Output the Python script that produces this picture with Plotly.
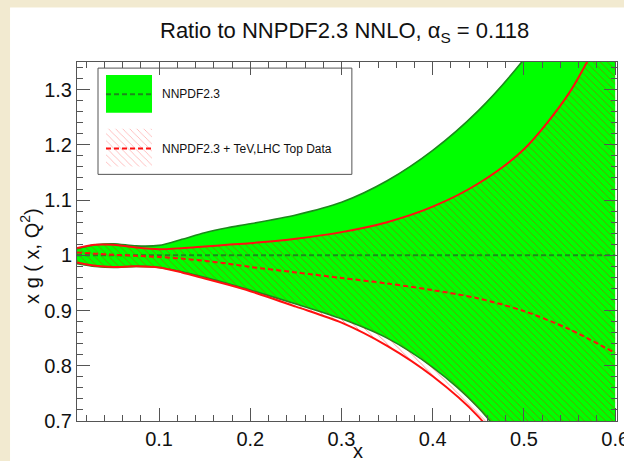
import plotly.graph_objects as go

# ---- data ----
x = [0.01, 0.03, 0.05, 0.075, 0.1, 0.125, 0.15, 0.175, 0.2, 0.25, 0.3, 0.35, 0.4, 0.45, 0.5, 0.55, 0.6]
nnpdf_up = [1.012, 1.019, 1.021, 1.017, 1.018, 1.029, 1.041, 1.050, 1.057, 1.073, 1.096, 1.135, 1.190, 1.262, 1.355, 1.47, 1.60]
nnpdf_lo = [0.985, 0.980, 0.978, 0.980, 0.978, 0.970, 0.960, 0.949, 0.937, 0.912, 0.885, 0.850, 0.797, 0.724, 0.62, 0.50, 0.36]
nnpdf_c = [1.0] * len(x)
top_up = [1.013, 1.019, 1.019, 1.014, 1.011, 1.013, 1.016, 1.019, 1.022, 1.030, 1.042, 1.060, 1.088, 1.130, 1.192, 1.295, 1.45]
top_lo = [0.987, 0.981, 0.979, 0.980, 0.978, 0.969, 0.958, 0.947, 0.935, 0.907, 0.878, 0.836, 0.781, 0.708, 0.60, 0.47, 0.32]
top_c = [1.005, 1.003, 1.001, 0.999, 0.997, 0.994, 0.990, 0.985, 0.979, 0.969, 0.959, 0.949, 0.937, 0.922, 0.899, 0.866, 0.823]

xticks = [0.1, 0.2, 0.3, 0.4, 0.5, 0.6]
xticklabels = ["0.1", "0.2", "0.3", "0.4", "0.5", "0.6"]
yticks = [0.7, 0.8, 0.9, 1.0, 1.1, 1.2, 1.3]
yticklabels = ["0.7", "0.8", "0.9", "1", "1.1", "1.2", "1.3"]

GREEN = "#00ff00"
DKGREEN = "#1c8a1c"
RED = "#ff1010"
FONT = "Liberation Sans, Arial, sans-serif"
SM = 0.8

pattern = dict(shape="\\", fgcolor="red", bgcolor="rgba(0,0,0,0)", size=5, solidity=0.14, fgopacity=0.55)

fig = go.Figure()
# green band
fig.add_trace(go.Scatter(x=x, y=nnpdf_lo, mode="lines", line=dict(width=0, shape="spline", smoothing=SM),
                         showlegend=False, hoverinfo="skip"))
fig.add_trace(go.Scatter(x=x, y=nnpdf_up, mode="lines", fill="tonexty", fillcolor=GREEN,
                         line=dict(color=DKGREEN, width=1.6, shape="spline", smoothing=SM), showlegend=False))
fig.add_trace(go.Scatter(x=x, y=nnpdf_lo, mode="lines",
                         line=dict(color=DKGREEN, width=1.6, shape="spline", smoothing=SM), showlegend=False))
# red hatched band
fig.add_trace(go.Scatter(x=x, y=top_lo, mode="lines",
                         line=dict(color=RED, width=2, shape="spline", smoothing=SM), showlegend=False))
fig.add_trace(go.Scatter(x=x, y=top_up, mode="lines", fill="tonexty", fillcolor="rgba(0,0,0,0)", fillpattern=pattern,
                         line=dict(color=RED, width=2, shape="spline", smoothing=SM), showlegend=False))
# central values
fig.add_trace(go.Scatter(x=x, y=nnpdf_c, mode="lines",
                         line=dict(color=DKGREEN, width=2, dash="5px,3px"), showlegend=False))
fig.add_trace(go.Scatter(x=x, y=top_c, mode="lines",
                         line=dict(color=RED, width=2, dash="5px,3px", shape="spline", smoothing=SM), showlegend=False))

# legend hatched swatch on an overlay axis in paper units
L_x0, L_x1 = 0.0537, 0.1389
H_y0, H_y1 = 0.709, 0.8144
fig.add_trace(go.Scatter(x=[L_x0, L_x1, L_x1, L_x0, L_x0], y=[H_y0, H_y0, H_y1, H_y1, H_y0],
                         xaxis="x2", yaxis="y2", mode="lines", line=dict(width=0),
                         fill="toself", fillcolor="rgba(0,0,0,0)",
                         fillpattern=dict(shape="\\", fgcolor="red", bgcolor="rgba(0,0,0,0)", size=5,
                                          solidity=0.14, fgopacity=0.35),
                         showlegend=False, hoverinfo="skip"))

axis_common = dict(
    showline=True, linecolor="#555", linewidth=1, mirror="ticks",
    ticks="inside", ticklen=13, tickcolor="#555", tickwidth=1,
    showgrid=False, zeroline=False, automargin=False,
    tickfont=dict(family=FONT, size=20, color="#111"),
)

fig.update_layout(
    width=624, height=461,
    margin=dict(l=77, r=7, t=62, b=40, autoexpand=False),
    paper_bgcolor="#f2ead0",
    plot_bgcolor="rgba(0,0,0,0)",
    font=dict(family=FONT),
    xaxis=dict(range=[0.01, 0.602], tickvals=xticks, ticktext=xticklabels, ticklabeloverflow="allow",
               minor=dict(ticks="inside", ticklen=6, dtick=0.02, tick0=0, tickcolor="#555", showgrid=False),
               **axis_common),
    yaxis=dict(range=[0.7, 1.35], tickvals=yticks, ticktext=yticklabels,
               minor=dict(ticks="inside", ticklen=6, dtick=0.02, tick0=0, tickcolor="#555", showgrid=False),
               **axis_common),
    xaxis2=dict(overlaying="x", range=[0, 1], visible=False),
    yaxis2=dict(overlaying="y", range=[0, 1], visible=False),
    shapes=[
        # white canvas
        dict(type="rect", xref="paper", yref="paper", x0=-0.124, x1=1.05, y0=-0.2, y1=1.152,
             fillcolor="white", line=dict(width=0), layer="below"),
        # legend box
        dict(type="rect", xref="paper", yref="paper", x0=0.0389, x1=0.509, y0=0.687, y1=0.983,
             fillcolor="white", line=dict(color="#555", width=1), layer="below"),
        dict(type="rect", xref="paper", yref="paper", x0=L_x0, x1=L_x1, y0=0.8587, y1=0.964,
             fillcolor=GREEN, line=dict(width=0), layer="above"),
        dict(type="line", xref="paper", yref="paper", x0=L_x0, x1=L_x1, y0=0.91, y1=0.91,
             line=dict(color=DKGREEN, width=2, dash="5px,3px"), layer="above"),
        dict(type="line", xref="paper", yref="paper", x0=L_x0, x1=L_x1, y0=0.759, y1=0.759,
             line=dict(color=RED, width=2, dash="5px,3px"), layer="above"),
    ],
    annotations=[
        dict(text="Ratio to NNPDF2.3 NNLO, α<sub>S</sub> = 0.118", xref="paper", yref="paper",
             x=0.496, y=1.084, xanchor="center", yanchor="middle", showarrow=False,
             font=dict(family=FONT, size=22, color="#111")),
        dict(text="x g ( x, Q<sup>2</sup>)", xref="paper", yref="paper", x=-0.087, y=0.46,
             xanchor="center", yanchor="middle", textangle=-90, showarrow=False,
             font=dict(family=FONT, size=20, color="#111")),
        dict(text="x", xref="paper", yref="paper", x=0.52, y=-0.083, xanchor="center", yanchor="middle",
             showarrow=False, font=dict(family=FONT, size=20, color="#111")),
        dict(text="NNPDF2.3", xref="paper", yref="paper", x=0.1537, y=0.911, xanchor="left", yanchor="middle",
             showarrow=False, font=dict(family=FONT, size=12, color="#111")),
        dict(text="NNPDF2.3 + TeV,LHC Top Data", xref="paper", yref="paper", x=0.1537, y=0.759,
             xanchor="left", yanchor="middle", showarrow=False, font=dict(family=FONT, size=12, color="#111")),
    ],
)

fig.write_html("out.html")
